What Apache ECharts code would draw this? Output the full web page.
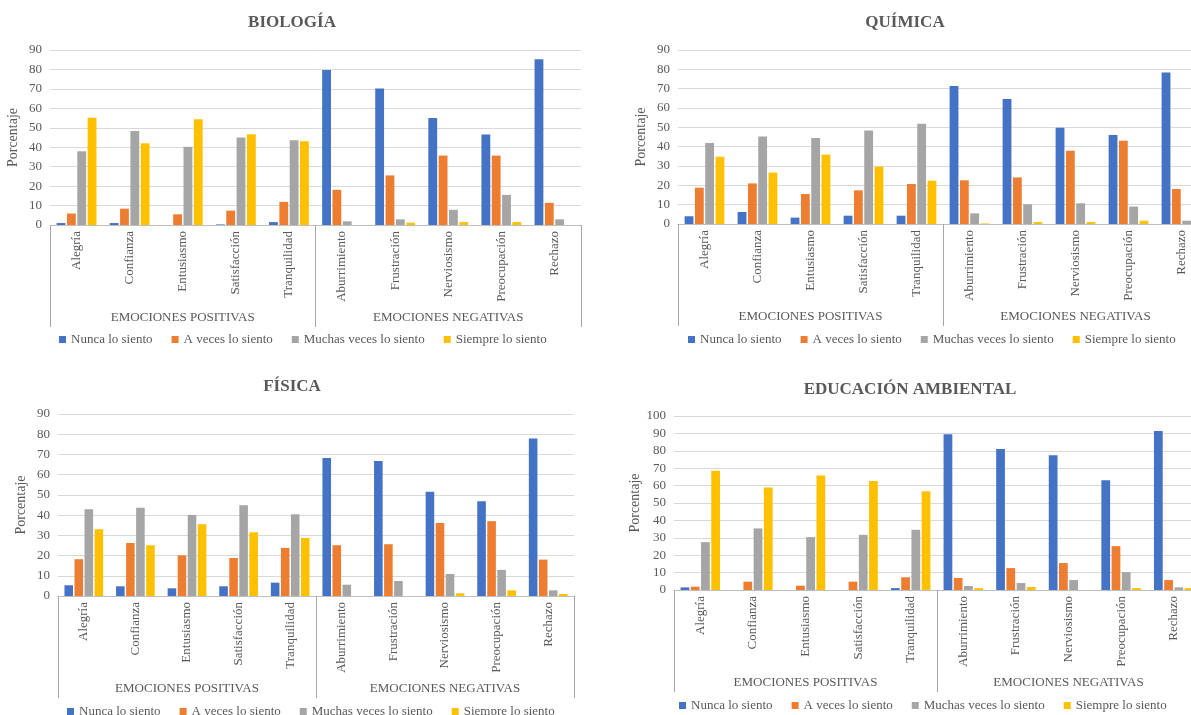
<!DOCTYPE html>
<html>
<head>
<meta charset="utf-8">
<script src="https://cdn.jsdelivr.net/npm/echarts@6/dist/echarts.min.js"></script>
<style>
  html, body { margin: 0; padding: 0; background: #fff; overflow: hidden; }
  /* the right-hand panels run slightly past the visible page edge */
  #chart { width: 1240px; height: 715px; }
</style>
</head>
<body>
<div id="chart"></div>
<script>
// Emotion categories and their grouping on the category axis
const categories = ['Alegría', 'Confianza', 'Entusiasmo', 'Satisfacción', 'Tranquilidad',
  'Aburrimiento', 'Frustración', 'Nerviosismo', 'Preocupación', 'Rechazo'];
const groups = ['EMOCIONES POSITIVAS', 'EMOCIONES NEGATIVAS'];
const seriesNames = ['Nunca lo siento', 'A veces lo siento', 'Muchas veces lo siento', 'Siempre lo siento'];

// Biología (%)
const bioNunca   = [1.0, 1.0, 0, 0.3, 1.5, 79.7, 70.2, 55.0, 46.6, 85.3];
const bioAveces  = [5.9, 8.4, 5.5, 7.4, 11.9, 18.1, 25.5, 35.7, 35.7, 11.4];
const bioMuchas  = [37.9, 48.4, 40.2, 45.0, 43.6, 1.9, 2.9, 7.8, 15.5, 2.9];
const bioSiempre = [55.1, 42.0, 54.4, 46.7, 43.1, 0, 1.2, 1.5, 1.5, 0];

// Química (%)
const quiNunca   = [4.0, 6.2, 3.3, 4.3, 4.3, 71.4, 64.7, 49.8, 46.0, 78.4];
const quiAveces  = [18.8, 21.0, 15.5, 17.4, 20.7, 22.6, 24.1, 37.9, 43.1, 18.1];
const quiMuchas  = [41.9, 45.2, 44.5, 48.3, 51.9, 5.5, 10.2, 10.7, 9.0, 1.7];
const quiSiempre = [34.8, 26.6, 35.9, 29.7, 22.4, 0.3, 1.0, 1.0, 1.7, 0];

// Física (%)
const fisNunca   = [5.3, 4.8, 3.8, 4.8, 6.6, 68.2, 66.8, 51.5, 46.9, 77.9];
const fisAveces  = [18.2, 26.2, 20.1, 18.8, 23.8, 25.1, 25.6, 36.1, 37.0, 18.0];
const fisMuchas  = [42.9, 43.6, 40.1, 44.9, 40.4, 5.6, 7.4, 10.9, 12.9, 2.8];
const fisSiempre = [33.0, 25.1, 35.5, 31.5, 28.7, 0, 0, 1.3, 2.8, 1.0];

// Educación ambiental (%)
const eduNunca   = [1.5, 0, 0, 0, 1.1, 89.5, 81.1, 77.4, 63.1, 91.4];
const eduAveces  = [1.9, 4.8, 2.5, 4.8, 7.3, 6.9, 12.6, 15.5, 25.2, 5.7];
const eduMuchas  = [27.5, 35.4, 30.4, 31.7, 34.6, 2.3, 4.0, 5.7, 10.3, 1.5];
const eduSiempre = [68.6, 58.9, 65.8, 62.7, 56.8, 1.1, 1.7, 0, 1.1, 1.1];

const yMaxes = [90, 90, 90, 100];
const titles = ['BIOLOGÍA', 'QUÍMICA', 'FÍSICA', 'EDUCACIÓN AMBIENTAL'];
const panelData = [
  [bioNunca, bioAveces, bioMuchas, bioSiempre],
  [quiNunca, quiAveces, quiMuchas, quiSiempre],
  [fisNunca, fisAveces, fisMuchas, fisSiempre],
  [eduNunca, eduAveces, eduMuchas, eduSiempre]
];

const colors = ['#4472C4', '#ED7D31', '#A5A5A5', '#FFC000'];
const FONT = "'Liberation Serif', 'Times New Roman', serif";
const TEXT = '#595959';

// Panel layout: plot area, title, legend and axis-name placement
const layout = [
  { grid: { left: 50,  top: 50,  width: 531, height: 175 }, titleX: 292, titleY: 14,  legendX: 59,  legendY: 333, nameGap: 30 },
  { grid: { left: 678, top: 50,  width: 530, height: 174 }, titleX: 905, titleY: 14,  legendX: 688, legendY: 333, nameGap: 30 },
  { grid: { left: 58,  top: 414, width: 516, height: 182 }, titleX: 292, titleY: 378, legendX: 67,  legendY: 705, nameGap: 30 },
  { grid: { left: 674, top: 416, width: 526, height: 174 }, titleX: 910, titleY: 381, legendX: 679, legendY: 699, nameGap: 30 }
];

const grid = [], xAxis = [], yAxis = [], series = [], title = [], legend = [];

layout.forEach((p, i) => {
  grid.push(Object.assign({ containLabel: false }, p.grid));

  title.push({
    text: titles[i], left: p.titleX, top: p.titleY, textAlign: 'center', padding: 0,
    textStyle: { fontFamily: FONT, fontSize: 17, fontWeight: 'bold', color: TEXT }
  });

  legend.push({
    data: seriesNames, left: p.legendX, top: p.legendY, padding: 0,
    icon: 'rect', itemWidth: 7, itemHeight: 7, itemGap: 19, selectedMode: false,
    textStyle: { fontFamily: FONT, fontSize: 13, color: TEXT }
  });

  // Emotion names, written vertically under the bars
  xAxis.push({
    type: 'category', gridIndex: i, data: categories, position: 'bottom',
    axisLine: { show: true, lineStyle: { color: '#BFBFBF', width: 1 } },
    axisTick: { show: false },
    axisLabel: { rotate: 90, margin: 6, interval: 0, fontFamily: FONT, fontSize: 13, color: TEXT }
  });

  // Group row: boundary ticks form the divider lines, labels sit underneath
  xAxis.push({
    type: 'category', gridIndex: i, data: groups, position: 'bottom', offset: 0,
    axisLine: { show: false },
    axisTick: { show: true, length: 102, lineStyle: { color: '#A6A6A6', width: 1 } },
    axisLabel: { margin: 86, interval: 0, fontFamily: FONT, fontSize: 13, color: TEXT },
    splitLine: { show: false }
  });

  yAxis.push({
    type: 'value', gridIndex: i, min: 0, max: yMaxes[i], interval: 10,
    name: 'Porcentaje', nameLocation: 'middle', nameGap: p.nameGap, nameRotate: 90,
    nameTextStyle: { fontFamily: FONT, fontSize: 14, color: TEXT },
    axisLine: { show: false }, axisTick: { show: false },
    axisLabel: { margin: 8, fontFamily: FONT, fontSize: 13, color: TEXT },
    splitLine: { lineStyle: { color: '#D9D9D9', width: 1 } }
  });

  panelData[i].forEach((vals, s) => {
    series.push({
      type: 'bar', name: seriesNames[s], data: vals,
      xAxisIndex: i * 2, yAxisIndex: i,
      barCategoryGap: '25%', barGap: '17%',
      itemStyle: { color: colors[s] },
      animation: false
    });
  });
});

const chart = echarts.init(document.getElementById('chart'), null, { renderer: 'canvas' });
chart.setOption({
  backgroundColor: '#ffffff',
  animation: false,
  color: colors,
  title, legend, grid, xAxis, yAxis, series
});
</script>
</body>
</html>
